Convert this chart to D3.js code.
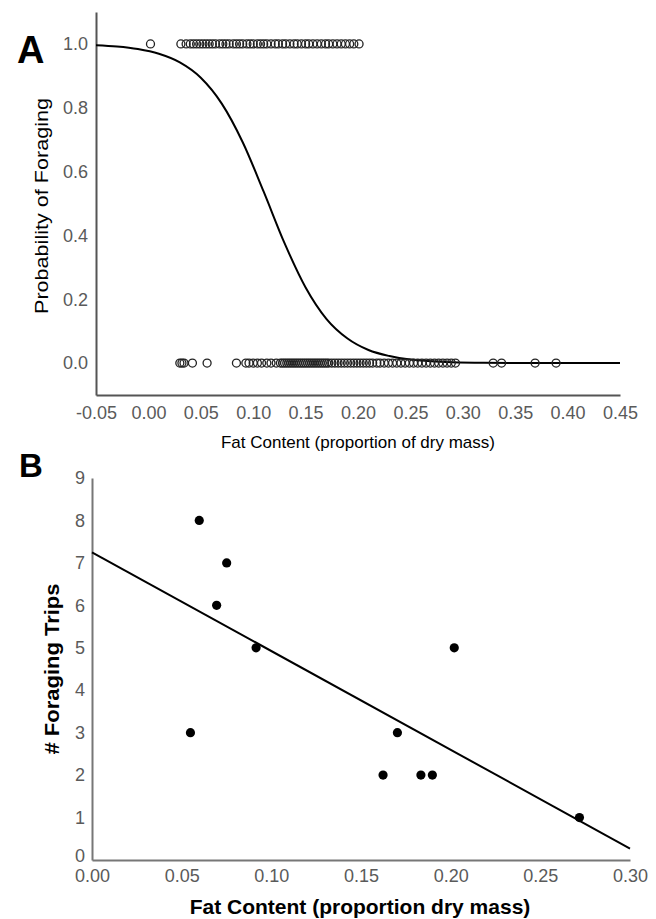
<!DOCTYPE html>
<html>
<head>
<meta charset="utf-8">
<script src="https://cdn.jsdelivr.net/npm/d3@7"></script>
<style>
  body { margin: 0; background: #fff; }
  svg { font-family: "Liberation Sans", Arial, sans-serif; }
</style>
</head>
<body>
<svg id="chart" width="656" height="919"></svg>
<script>
// panel A: birds that foraged (1) / did not forage (0), by fat content
const foragedFat = [0.002, 0.031, 0.036, 0.040, 0.043, 0.046, 0.049, 0.052, 0.055, 0.058,
  0.061, 0.064, 0.068, 0.071, 0.074, 0.077, 0.081, 0.084, 0.087, 0.090, 0.094, 0.097,
  0.100, 0.104, 0.107, 0.110, 0.113, 0.117, 0.121, 0.124, 0.128, 0.131, 0.135, 0.139,
  0.142, 0.146, 0.150, 0.153, 0.157, 0.161, 0.165, 0.169, 0.172, 0.176, 0.180, 0.184,
  0.188, 0.192, 0.196, 0.201]
const notForagedFat = [0.030, 0.032, 0.034, 0.042, 0.056, 0.084, 0.093, 0.096, 0.100,
  0.104, 0.108, 0.113, 0.117, 0.122, 0.126, 0.128, 0.130, 0.132, 0.134, 0.136, 0.138,
  0.140, 0.142, 0.144, 0.146, 0.148, 0.150, 0.152, 0.154, 0.156, 0.158, 0.160, 0.162,
  0.164, 0.166, 0.168, 0.170, 0.172, 0.175, 0.178, 0.181, 0.184, 0.187, 0.190, 0.193,
  0.196, 0.199, 0.202, 0.205, 0.208, 0.211, 0.214, 0.218, 0.221, 0.225, 0.229, 0.233,
  0.237, 0.241, 0.245, 0.249, 0.253, 0.257, 0.261, 0.265, 0.269, 0.273, 0.277, 0.281,
  0.285, 0.289, 0.293, 0.329, 0.337, 0.369, 0.389]

// fitted logistic curve
const curveFat = [-0.05, -0.03, -0.01, 0.01, 0.03, 0.05, 0.07, 0.09, 0.11, 0.13, 0.15,
  0.17, 0.19, 0.21, 0.23, 0.25, 0.27, 0.29, 0.32, 0.36, 0.40, 0.45]
const curveProb = [0.996, 0.992, 0.984, 0.969, 0.942, 0.894, 0.813, 0.692, 0.537, 0.375,
  0.237, 0.138, 0.077, 0.041, 0.022, 0.011, 0.006, 0.003, 0.001, 0.0003, 0.0001, 0]

// panel B: foraging trips vs fat content
const tripsFat = [0.0549, 0.0598, 0.0695, 0.0751, 0.0915, 0.1623, 0.1703, 0.1834, 0.1898, 0.2020, 0.2718]
const tripsCount = [3, 8, 6, 7, 5, 2, 3, 2, 2, 5, 1]
const fitFat = [0, 0.30]
const fitTrips = [7.25, 0.27]

const xTicksA = [-0.05, 0, 0.05, 0.10, 0.15, 0.20, 0.25, 0.30, 0.35, 0.40, 0.45]
const yTicksA = [0, 0.2, 0.4, 0.6, 0.8, 1.0]
const xTicksB = [0, 0.05, 0.10, 0.15, 0.20, 0.25, 0.30]
const yTicksB = [0, 1, 2, 3, 4, 5, 6, 7, 8, 9]

const svg = d3.select("#chart")
const tickColor = "#5a5a5a"

function styleAxis(g, lineColor) {
  g.select(".domain").attr("stroke", lineColor).attr("stroke-width", 2)
  g.selectAll(".tick line").remove()
  g.selectAll(".tick text").attr("fill", tickColor).style("font-size", "18px")
}

// ---------- panel A ----------
const xA = d3.scaleLinear().domain([-0.05, 0.45]).range([96, 620])
const yA = d3.scaleLinear().domain([-0.1, 1.1]).range([395, 12])

svg.append("g")
  .attr("transform", "translate(0,395)")
  .call(d3.axisBottom(xA).tickValues(xTicksA).tickFormat(d => d.toFixed(2)).tickSize(0).tickPadding(11))
  .call(g => styleAxis(g, "#555"))

svg.append("g")
  .attr("transform", "translate(96,0)")
  .call(d3.axisLeft(yA).tickValues(yTicksA).tickFormat(d => d.toFixed(1)).tickSize(0).tickPadding(8))
  .call(g => styleAxis(g, "#555"))

const curvePts = curveFat.map((f, i) => [f, curveProb[i]])
svg.append("path")
  .datum(curvePts)
  .attr("fill", "none")
  .attr("stroke", "#000")
  .attr("stroke-width", 2)
  .attr("d", d3.line().x(d => xA(d[0])).y(d => yA(d[1])).curve(d3.curveMonotoneX))

svg.append("g").selectAll("circle")
  .data(foragedFat.map(f => [f, 1]).concat(notForagedFat.map(f => [f, 0])))
  .join("circle")
  .attr("cx", d => xA(d[0]))
  .attr("cy", d => yA(d[1]))
  .attr("r", 4)
  .attr("fill", "none")
  .attr("stroke", "#222")
  .attr("stroke-width", 1.3)

svg.append("text")
  .attr("transform", "translate(48,206) scale(1,1.2) rotate(-90)")
  .attr("text-anchor", "middle")
  .style("font-size", "18px")
  .text("Probability of Foraging")

svg.append("text")
  .attr("x", 358).attr("y", 448)
  .attr("text-anchor", "middle")
  .style("font-size", "17px")
  .text("Fat Content (proportion of dry mass)")

svg.append("text")
  .attr("x", 17).attr("y", 63)
  .style("font-size", "38px").style("font-weight", "bold")
  .text("A")

// ---------- panel B ----------
const xB = d3.scaleLinear().domain([0, 0.30]).range([92, 630])
const yB = d3.scaleLinear().domain([0, 9]).range([860, 478])

svg.append("g")
  .attr("transform", "translate(0,860)")
  .call(d3.axisBottom(xB).tickValues(xTicksB).tickFormat(d => d.toFixed(2)).tickSize(0).tickPadding(9))
  .call(g => styleAxis(g, "#777"))

svg.append("g")
  .attr("transform", "translate(92,0)")
  .call(d3.axisLeft(yB).tickValues(yTicksB).tickFormat(d3.format("d")).tickSize(0).tickPadding(7))
  .call(g => styleAxis(g, "#777"))
  // the "0" sits right on the corner; lift it a touch so it clears "0.00"
  .call(g => g.selectAll(".tick text").filter(d => d === 0).attr("dy", "0.1em"))

svg.append("path")
  .datum(fitFat.map((f, i) => [f, fitTrips[i]]))
  .attr("fill", "none")
  .attr("stroke", "#000")
  .attr("stroke-width", 2)
  .attr("d", d3.line().x(d => xB(d[0])).y(d => yB(d[1])))

svg.append("g").selectAll("circle")
  .data(tripsFat.map((f, i) => [f, tripsCount[i]]))
  .join("circle")
  .attr("cx", d => xB(d[0]))
  .attr("cy", d => yB(d[1]))
  .attr("r", 4.6)
  .attr("fill", "#000")

svg.append("text")
  .attr("transform", "translate(59,669) scale(1,1.1) rotate(-90)")
  .attr("text-anchor", "middle")
  .style("font-size", "20px").style("font-weight", "bold")
  .text("# Foraging Trips")

svg.append("text")
  .attr("x", 360).attr("y", 914)
  .attr("text-anchor", "middle")
  .style("font-size", "21px").style("font-weight", "bold")
  .text("Fat Content (proportion dry mass)")

svg.append("text")
  .attr("x", 19).attr("y", 477)
  .style("font-size", "33px").style("font-weight", "bold")
  .text("B")
</script>
</body>
</html>
